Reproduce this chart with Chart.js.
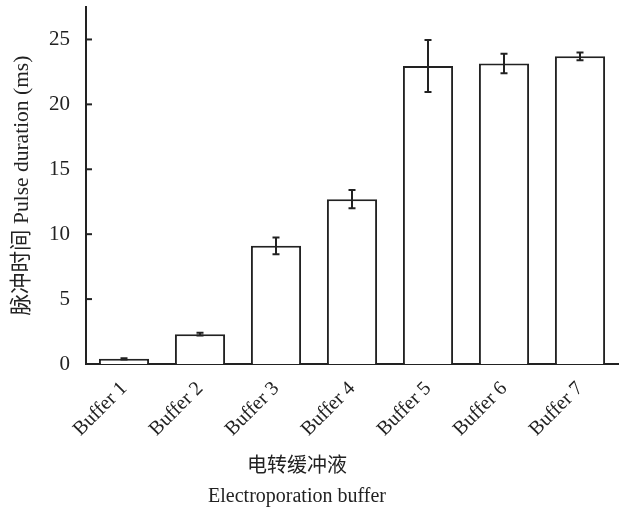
<!DOCTYPE html>
<html><head><meta charset="utf-8">
<script src="https://cdn.jsdelivr.net/npm/chart.js@4.4.1/dist/chart.umd.min.js"></script>
<style>html,body{margin:0;padding:0;background:#fff}#wrap{width:619px;height:510px}</style>
</head><body><div id="wrap"><canvas id="c" width="619" height="510"></canvas></div>
<script>
const categories = ["Buffer 1","Buffer 2","Buffer 3","Buffer 4","Buffer 5","Buffer 6","Buffer 7"];
const values = [0.4, 2.3, 9.1, 12.7, 22.95, 23.15, 23.7];
const errors = [0.05, 0.1, 0.65, 0.7, 2.0, 0.75, 0.3];
const yTicks = [0, 5, 10, 15, 20, 25];
const yTitle = "脉冲时间 Pulse duration (ms)";
const xTitleLines = ["电转缓冲液", "Electroporation buffer"];

const FONT = "'Liberation Serif', 'Times New Roman', 'Noto Sans CJK SC', serif";
const INK = "#222";

const errorBars = {
  id: 'errorBars',
  afterDatasetsDraw(chart) {
    const ctx = chart.ctx, y = chart.scales.y;
    const meta = chart.getDatasetMeta(0);
    ctx.save();
    ctx.strokeStyle = INK; ctx.lineWidth = 2;
    meta.data.forEach((bar, i) => {
      const v = values[i], e = errors[i];
      const yt = y.getPixelForValue(v + e), yb = y.getPixelForValue(v - e);
      ctx.beginPath();
      ctx.moveTo(bar.x, yt); ctx.lineTo(bar.x, yb);
      ctx.moveTo(bar.x - 3.5, yt); ctx.lineTo(bar.x + 3.5, yt);
      ctx.moveTo(bar.x - 3.5, yb); ctx.lineTo(bar.x + 3.5, yb);
      ctx.stroke();
    });
    ctx.restore();
  }
};

const innerTicks = {
  id: 'innerTicks',
  afterDraw(chart) {
    const ctx = chart.ctx, y = chart.scales.y, left = chart.chartArea.left;
    ctx.save();
    ctx.strokeStyle = INK; ctx.lineWidth = 2;
    yTicks.forEach(t => {
      const py = y.getPixelForValue(t);
      ctx.beginPath(); ctx.moveTo(left, py); ctx.lineTo(left + 6, py); ctx.stroke();
    });
    ctx.fillStyle = INK; ctx.textAlign = 'center'; ctx.textBaseline = 'middle';
    ctx.font = "20px " + FONT;
    ctx.fillText(xTitleLines[0], 297, 467);
    ctx.fillText(xTitleLines[1], 297, 497);
    ctx.restore();
  }
};

new Chart(document.getElementById('c'), {
  type: 'bar',
  data: {
    labels: categories,
    datasets: [{
      data: values,
      backgroundColor: '#fff',
      borderColor: INK,
      borderWidth: 2,
      borderSkipped: 'bottom',
      categoryPercentage: 1,
      barPercentage: 0.66
    }]
  },
  options: {
    responsive: false,
    animation: false,
    devicePixelRatio: 1,
    layout: { padding: { top: 7, right: 1, left: 0, bottom: 0 } },
    plugins: { legend: { display: false }, tooltip: { enabled: false } },
    scales: {
      x: {
        grid: { display: false },
        border: { display: true, color: INK, width: 2 },
        ticks: { color: INK, font: { family: FONT, size: 20 }, maxRotation: 45, minRotation: 45, padding: 5 },
        afterFit(s) { s.height = 146; s.paddingLeft = 0; s.paddingRight = 0; }
      },
      y: {
        min: 0, max: 27.5,
        grid: { display: false },
        border: { display: true, color: INK, width: 2 },
        afterBuildTicks(s) { s.ticks = yTicks.map(v => ({ value: v })); },
        ticks: { color: INK, font: { family: FONT, size: 21 }, padding: 8 },
        title: { display: true, text: yTitle, color: INK, font: { family: FONT, size: 21.5 }, padding: { top: 9, bottom: 0 } },
        afterFit(s) { s.width = 86; s.paddingTop = 0; s.paddingBottom = 0; }
      }
    }
  },
  plugins: [errorBars, innerTicks]
});
</script>
</body></html>
